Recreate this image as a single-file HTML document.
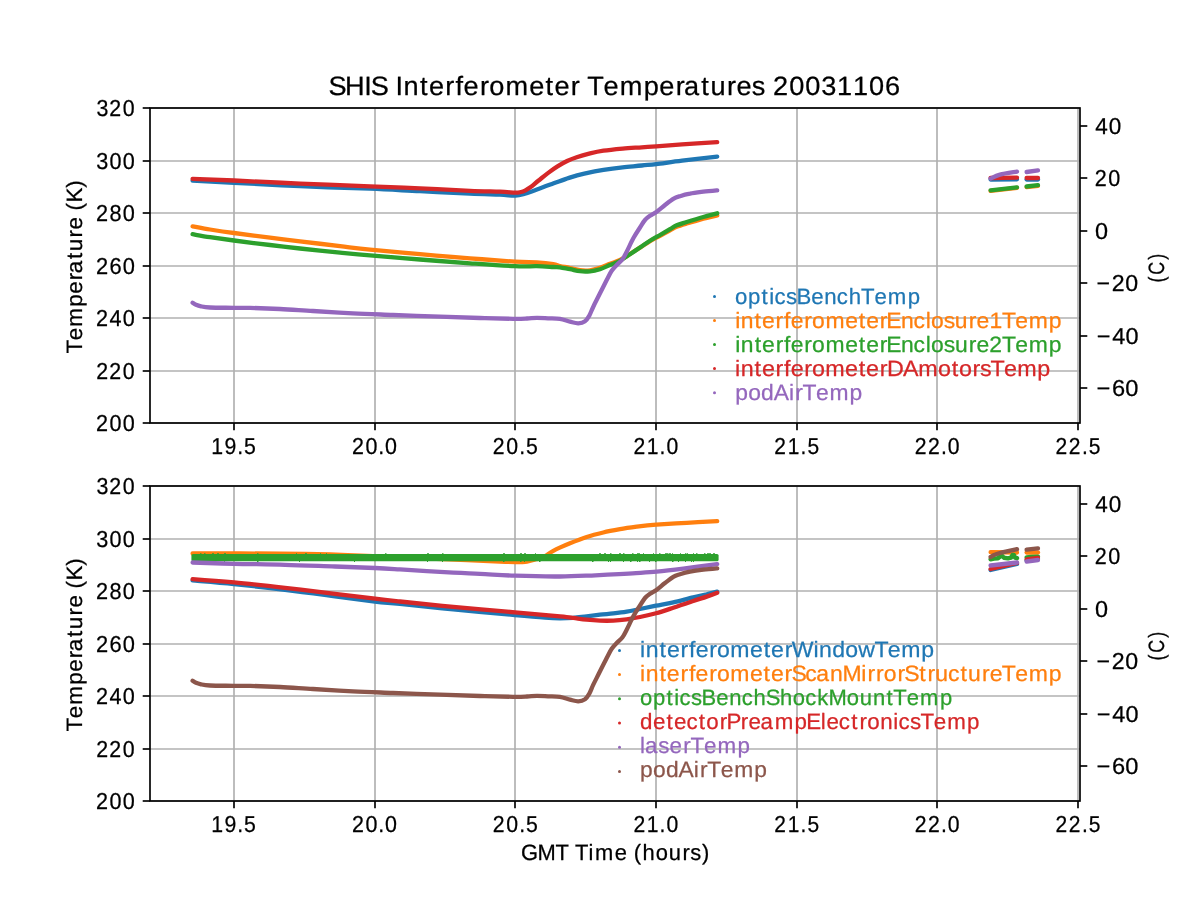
<!DOCTYPE html>
<html><head><meta charset="utf-8"><title>SHIS Interferometer Temperatures 20031106</title>
<style>html,body{margin:0;padding:0;background:#fff;}body{width:1200px;height:900px;overflow:hidden;font-family:"Liberation Sans", sans-serif;}svg{display:block;will-change:transform;text-rendering:geometricPrecision}text{font-family:"Liberation Sans", sans-serif;stroke-width:.25px;stroke-linejoin:round}</style>
</head><body>
<svg width="1200" height="900" viewBox="0 0 1200 900">
<rect width="1200" height="900" fill="#ffffff"/>
<line x1="234.00" y1="108.0" x2="234.00" y2="423.0" stroke="#b0b0b0" stroke-width="1.67"/>
<line x1="375.00" y1="108.0" x2="375.00" y2="423.0" stroke="#b0b0b0" stroke-width="1.67"/>
<line x1="515.00" y1="108.0" x2="515.00" y2="423.0" stroke="#b0b0b0" stroke-width="1.67"/>
<line x1="656.00" y1="108.0" x2="656.00" y2="423.0" stroke="#b0b0b0" stroke-width="1.67"/>
<line x1="797.00" y1="108.0" x2="797.00" y2="423.0" stroke="#b0b0b0" stroke-width="1.67"/>
<line x1="937.00" y1="108.0" x2="937.00" y2="423.0" stroke="#b0b0b0" stroke-width="1.67"/>
<line x1="1078.00" y1="108.0" x2="1078.00" y2="423.0" stroke="#b0b0b0" stroke-width="1.67"/>
<line x1="150.0" y1="423.00" x2="1080.0" y2="423.00" stroke="#b0b0b0" stroke-width="1.67"/>
<line x1="150.0" y1="371.00" x2="1080.0" y2="371.00" stroke="#b0b0b0" stroke-width="1.67"/>
<line x1="150.0" y1="318.00" x2="1080.0" y2="318.00" stroke="#b0b0b0" stroke-width="1.67"/>
<line x1="150.0" y1="266.00" x2="1080.0" y2="266.00" stroke="#b0b0b0" stroke-width="1.67"/>
<line x1="150.0" y1="213.00" x2="1080.0" y2="213.00" stroke="#b0b0b0" stroke-width="1.67"/>
<line x1="150.0" y1="161.00" x2="1080.0" y2="161.00" stroke="#b0b0b0" stroke-width="1.67"/>
<line x1="150.0" y1="108.00" x2="1080.0" y2="108.00" stroke="#b0b0b0" stroke-width="1.67"/>
<path d="M192.6,180.6 C199.5,181.0 216.1,181.9 234.0,182.8 C251.9,183.7 277.3,185.2 300.0,186.2 C322.7,187.2 350.0,187.9 370.0,188.7 C390.0,189.5 403.3,190.4 420.0,191.2 C436.7,192.0 456.7,193.1 470.0,193.7 C483.3,194.3 492.4,194.3 500.0,194.6 C507.6,194.9 511.1,195.8 515.3,195.6 C519.4,195.4 521.1,194.7 524.9,193.6 C528.7,192.5 533.5,190.7 538.3,189.0 C543.1,187.3 548.6,185.2 553.7,183.3 C558.8,181.5 563.9,179.5 569.0,177.9 C574.1,176.3 578.5,175.0 584.3,173.7 C590.0,172.4 597.1,170.9 603.5,169.9 C609.9,168.9 616.3,168.1 622.7,167.4 C629.1,166.7 636.2,166.1 641.8,165.5 C647.4,164.9 649.5,164.9 656.2,164.1 C662.9,163.3 671.9,161.9 682.1,160.7 C692.3,159.5 711.4,157.4 717.2,156.7" fill="none" stroke="#1f77b4" stroke-width="4.3" stroke-linecap="round" stroke-linejoin="round"/>
<path d="M990.6,179.5 L1017.0,179.3" fill="none" stroke="#1f77b4" stroke-width="4.3" stroke-linecap="round" stroke-linejoin="round"/>
<path d="M1026.6,179.6 L1038.0,179.6" fill="none" stroke="#1f77b4" stroke-width="4.3" stroke-linecap="round" stroke-linejoin="round"/>
<path d="M192.6,226.3 C195.5,226.8 203.1,228.4 210.0,229.5 C216.9,230.6 224.0,231.7 234.0,233.0 C244.0,234.3 259.0,236.2 270.0,237.6 C281.0,239.0 288.3,239.9 300.0,241.3 C311.7,242.7 328.3,244.8 340.0,246.2 C351.7,247.6 356.7,248.4 370.0,249.7 C383.3,251.0 403.3,252.8 420.0,254.2 C436.7,255.6 454.2,257.1 470.0,258.3 C485.8,259.6 503.9,261.0 515.0,261.7 C526.1,262.4 530.3,262.1 536.7,262.5 C543.1,262.9 549.4,263.6 553.3,264.2 C557.2,264.8 557.2,265.4 560.0,266.0 C562.8,266.6 566.7,267.3 570.0,268.0 C573.3,268.7 576.7,269.8 580.0,270.2 C583.3,270.6 586.7,270.7 590.0,270.3 C593.3,269.9 596.7,268.9 600.0,267.8 C603.3,266.7 606.7,265.1 610.0,263.8 C613.3,262.5 616.7,261.6 620.0,260.0 C623.3,258.4 626.7,256.1 630.0,254.0 C633.3,251.9 636.7,249.7 640.0,247.6 C643.3,245.5 646.7,243.2 650.0,241.2 C653.3,239.2 656.7,237.6 660.0,235.8 C663.3,234.0 667.2,231.8 670.0,230.3 C672.8,228.8 673.9,227.8 676.7,226.7 C679.5,225.6 682.3,224.8 686.7,223.5 C691.1,222.2 698.2,220.2 703.3,218.8 C708.4,217.5 714.9,216.0 717.2,215.4" fill="none" stroke="#ff7f0e" stroke-width="4.3" stroke-linecap="round" stroke-linejoin="round"/>
<path d="M990.6,190.9 L1017.0,187.9" fill="none" stroke="#ff7f0e" stroke-width="4.3" stroke-linecap="round" stroke-linejoin="round"/>
<path d="M1026.6,187.1 L1038.0,185.8" fill="none" stroke="#ff7f0e" stroke-width="4.3" stroke-linecap="round" stroke-linejoin="round"/>
<path d="M192.6,234.2 C195.5,234.7 203.1,236.1 210.0,237.2 C216.9,238.2 224.0,239.2 234.0,240.5 C244.0,241.8 259.0,243.7 270.0,245.0 C281.0,246.3 288.3,247.2 300.0,248.5 C311.7,249.8 328.3,251.5 340.0,252.6 C351.7,253.7 356.7,254.2 370.0,255.3 C383.3,256.4 403.3,258.2 420.0,259.5 C436.7,260.8 454.2,262.2 470.0,263.3 C485.8,264.4 503.9,265.7 515.0,266.2 C526.1,266.7 530.3,266.1 536.7,266.2 C543.1,266.3 549.4,266.8 553.3,267.0 C557.2,267.2 557.2,266.9 560.0,267.3 C562.8,267.7 566.7,268.6 570.0,269.2 C573.3,269.8 576.7,270.8 580.0,271.2 C583.3,271.6 586.7,271.6 590.0,271.3 C593.3,271.0 596.7,270.2 600.0,269.2 C603.3,268.1 606.7,266.4 610.0,265.0 C613.3,263.6 616.7,262.6 620.0,260.8 C623.3,259.0 626.7,256.4 630.0,254.2 C633.3,252.0 636.7,249.7 640.0,247.5 C643.3,245.3 646.7,242.9 650.0,240.8 C653.3,238.7 656.7,236.9 660.0,235.0 C663.3,233.1 667.2,230.8 670.0,229.2 C672.8,227.6 673.9,226.5 676.7,225.3 C679.5,224.1 682.3,223.4 686.7,222.0 C691.1,220.6 698.2,218.4 703.3,217.0 C708.4,215.6 714.9,213.9 717.2,213.3" fill="none" stroke="#2ca02c" stroke-width="4.3" stroke-linecap="round" stroke-linejoin="round"/>
<path d="M990.6,190.3 L1017.0,187.3" fill="none" stroke="#2ca02c" stroke-width="4.3" stroke-linecap="round" stroke-linejoin="round"/>
<path d="M1026.6,186.5 L1038.0,185.2" fill="none" stroke="#2ca02c" stroke-width="4.3" stroke-linecap="round" stroke-linejoin="round"/>
<path d="M192.6,178.9 C199.5,179.2 216.1,179.7 234.0,180.5 C251.9,181.3 277.3,182.6 300.0,183.6 C322.7,184.6 350.0,185.5 370.0,186.3 C390.0,187.1 403.3,187.6 420.0,188.3 C436.7,189.1 456.7,190.2 470.0,190.8 C483.3,191.4 492.4,191.4 500.0,191.7 C507.6,192.0 511.8,192.6 515.3,192.7 C518.8,192.8 519.4,192.3 521.0,192.0 C522.6,191.7 523.4,191.4 525.0,190.6 C526.6,189.8 528.5,188.7 530.7,187.1 C532.9,185.5 535.4,183.1 538.3,180.8 C541.2,178.5 544.7,175.5 547.9,173.1 C551.1,170.7 554.3,168.4 557.5,166.4 C560.7,164.4 563.9,162.5 567.1,161.0 C570.3,159.5 572.9,158.5 576.7,157.2 C580.5,155.9 585.6,154.5 590.1,153.4 C594.6,152.3 598.1,151.5 603.5,150.7 C608.9,149.9 616.3,149.2 622.7,148.6 C629.1,148.0 636.2,147.7 641.8,147.3 C647.4,146.9 649.5,146.8 656.2,146.3 C662.9,145.8 671.9,145.1 682.1,144.4 C692.3,143.7 711.4,142.6 717.2,142.2" fill="none" stroke="#d62728" stroke-width="4.3" stroke-linecap="round" stroke-linejoin="round"/>
<path d="M990.6,178.0 L1017.0,177.6" fill="none" stroke="#d62728" stroke-width="4.3" stroke-linecap="round" stroke-linejoin="round"/>
<path d="M1026.6,178.0 L1038.0,178.0" fill="none" stroke="#d62728" stroke-width="4.3" stroke-linecap="round" stroke-linejoin="round"/>
<path d="M192.6,302.7 C193.2,303.1 194.6,304.2 196.0,304.8 C197.4,305.4 198.7,305.9 201.0,306.3 C203.3,306.8 204.5,307.2 210.0,307.5 C215.5,307.8 227.3,307.7 234.0,307.8 C240.7,307.9 242.3,307.7 250.0,307.9 C257.7,308.1 269.5,308.5 280.0,309.0 C290.5,309.5 300.8,310.3 313.0,311.0 C325.2,311.7 339.7,312.6 353.0,313.3 C366.3,314.0 378.5,314.4 393.0,315.0 C407.5,315.6 425.5,316.2 440.0,316.7 C454.5,317.2 467.8,317.6 480.0,318.0 C492.2,318.4 505.2,318.7 513.0,318.8 C520.8,318.9 523.0,318.7 527.0,318.5 C531.0,318.3 533.5,317.8 537.0,317.8 C540.5,317.8 544.2,318.1 548.0,318.3 C551.8,318.5 556.3,318.3 560.0,318.9 C563.7,319.5 567.0,321.0 570.0,321.7 C573.0,322.4 575.8,323.4 578.3,323.3 C580.8,323.2 583.2,322.6 585.0,321.3 C586.8,320.1 587.8,318.2 589.2,315.8 C590.6,313.4 591.5,310.4 593.3,306.7 C595.1,302.9 597.8,297.8 600.0,293.3 C602.2,288.9 604.8,283.8 606.7,280.0 C608.7,276.2 610.0,273.3 611.7,270.8 C613.4,268.3 614.9,266.9 616.7,265.0 C618.5,263.1 620.8,261.4 622.5,259.2 C624.2,257.0 624.9,255.2 626.7,251.7 C628.5,248.2 631.1,242.3 633.3,238.3 C635.5,234.3 638.0,230.6 640.0,227.5 C642.0,224.4 643.3,221.9 645.0,220.0 C646.7,218.1 648.0,217.2 650.0,215.8 C652.0,214.4 654.2,213.5 656.7,211.7 C659.2,209.9 662.2,207.2 665.0,205.0 C667.8,202.8 670.8,200.3 673.3,198.8 C675.8,197.3 677.2,197.0 680.0,196.2 C682.8,195.3 686.1,194.4 690.0,193.7 C693.9,192.9 698.8,192.3 703.3,191.7 C707.8,191.1 714.9,190.5 717.2,190.3" fill="none" stroke="#9467bd" stroke-width="4.3" stroke-linecap="round" stroke-linejoin="round"/>
<path d="M990.6,178.5 C992.2,177.8 995.6,175.8 1000.0,174.6 C1004.4,173.4 1014.2,172.1 1017.0,171.6" fill="none" stroke="#9467bd" stroke-width="4.3" stroke-linecap="round" stroke-linejoin="round"/>
<path d="M1026.6,172.0 L1038.0,170.3" fill="none" stroke="#9467bd" stroke-width="4.3" stroke-linecap="round" stroke-linejoin="round"/>
<circle cx="714.5" cy="296.5" r="1.5" fill="#1f77b4"/>
<text transform="translate(0 303.6) scale(0.9999 1)" x="735.04 748.10 761.66 769.30 774.54 786.05 796.53 811.35 824.31 836.92 848.84 861.14 874.51 887.94 907.78" y="0" font-size="22.2" fill="#1f77b4" stroke="#1f77b4">opticsBenchTemp</text>
<circle cx="714.5" cy="320.5" r="1.5" fill="#ff7f0e"/>
<text transform="translate(0 327.7) scale(1.0325 1)" x="712.00 717.53 730.87 738.04 751.20 759.39 765.86 779.01 786.50 799.48 818.57 831.73 838.90 852.06 858.42 872.56 884.83 896.51 901.79 913.98 924.82 938.25 945.81 958.27 970.38 983.39 996.37 1015.73" y="0" font-size="22.2" fill="#ff7f0e" stroke="#ff7f0e">interferometerEnclosure1Temp</text>
<circle cx="714.5" cy="344.6" r="1.5" fill="#2ca02c"/>
<text transform="translate(0 351.7) scale(1.0327 1)" x="711.89 717.41 730.75 737.92 751.08 759.27 765.74 778.89 786.37 799.35 818.45 831.60 838.77 851.92 858.29 872.42 884.69 896.37 901.65 913.84 924.68 938.10 945.66 957.97 970.22 983.23 996.21 1015.57" y="0" font-size="22.2" fill="#2ca02c" stroke="#2ca02c">interferometerEnclosure2Temp</text>
<circle cx="714.5" cy="368.6" r="1.5" fill="#d62728"/>
<text transform="translate(0 375.5) scale(1.0508 1)" x="699.56 704.92 718.08 725.08 738.05 746.12 752.42 765.39 772.71 785.41 804.24 817.22 824.22 837.18 844.23 859.25 873.91 892.67 905.65 912.58 925.54 932.73 942.58 955.39 968.09 987.17" y="0" font-size="22.2" fill="#d62728" stroke="#d62728">interferometerDAmotorsTemp</text>
<circle cx="714.5" cy="392.7" r="1.5" fill="#9467bd"/>
<text transform="translate(0 399.5) scale(1.0303 1)" x="713.57 726.15 738.72 751.03 765.77 771.92 778.87 792.00 805.12 824.63" y="0" font-size="22.2" fill="#9467bd" stroke="#9467bd">podAirTemp</text>
<line x1="234.00" y1="423.0" x2="234.00" y2="430.3" stroke="#000" stroke-width="1.67"/>
<text transform="translate(0 454.0) scale(0.9247 1)" x="228.47 242.67 256.55 263.88" y="0" font-size="23.0" fill="#000" stroke="#000">19.5</text>
<line x1="375.00" y1="423.0" x2="375.00" y2="430.3" stroke="#000" stroke-width="1.67"/>
<text transform="translate(0 454.0) scale(0.9324 1)" x="377.65 391.95 405.65 412.96" y="0" font-size="23.0" fill="#000" stroke="#000">20.0</text>
<line x1="515.00" y1="423.0" x2="515.00" y2="430.3" stroke="#000" stroke-width="1.67"/>
<text transform="translate(0 454.0) scale(0.9249 1)" x="532.86 547.42 561.31 568.73" y="0" font-size="23.0" fill="#000" stroke="#000">20.5</text>
<line x1="656.00" y1="423.0" x2="656.00" y2="430.3" stroke="#000" stroke-width="1.67"/>
<text transform="translate(0 454.0) scale(0.9196 1)" x="688.91 703.29 717.25 724.71" y="0" font-size="23.0" fill="#000" stroke="#000">21.0</text>
<line x1="797.00" y1="423.0" x2="797.00" y2="430.3" stroke="#000" stroke-width="1.67"/>
<text transform="translate(0 454.0) scale(0.9115 1)" x="849.48 864.15 878.31 885.88" y="0" font-size="23.0" fill="#000" stroke="#000">21.5</text>
<line x1="937.00" y1="423.0" x2="937.00" y2="430.3" stroke="#000" stroke-width="1.67"/>
<text transform="translate(0 454.0) scale(0.9218 1)" x="992.44 1006.61 1020.73 1028.16" y="0" font-size="23.0" fill="#000" stroke="#000">22.0</text>
<line x1="1078.00" y1="423.0" x2="1078.00" y2="430.3" stroke="#000" stroke-width="1.67"/>
<text transform="translate(0 454.0) scale(0.9140 1)" x="1154.93 1169.36 1183.68 1191.23" y="0" font-size="23.0" fill="#000" stroke="#000">22.5</text>
<line x1="142.7" y1="423.00" x2="150.0" y2="423.00" stroke="#000" stroke-width="1.67"/>
<text transform="translate(0 430.9) scale(0.9397 1)" x="102.25 116.59 130.64" y="0" font-size="23.0" fill="#000" stroke="#000">200</text>
<line x1="142.7" y1="371.00" x2="150.0" y2="371.00" stroke="#000" stroke-width="1.67"/>
<text transform="translate(0 378.9) scale(0.9283 1)" x="103.59 117.81 132.32" y="0" font-size="23.0" fill="#000" stroke="#000">220</text>
<line x1="142.7" y1="318.00" x2="150.0" y2="318.00" stroke="#000" stroke-width="1.67"/>
<text transform="translate(0 325.9) scale(0.9400 1)" x="102.23 116.56 130.60" y="0" font-size="23.0" fill="#000" stroke="#000">240</text>
<line x1="142.7" y1="266.00" x2="150.0" y2="266.00" stroke="#000" stroke-width="1.67"/>
<text transform="translate(0 273.9) scale(0.9506 1)" x="101.01 115.18 129.07" y="0" font-size="23.0" fill="#000" stroke="#000">260</text>
<line x1="142.7" y1="213.00" x2="150.0" y2="213.00" stroke="#000" stroke-width="1.67"/>
<text transform="translate(0 220.9) scale(0.9431 1)" x="101.86 116.15 130.14" y="0" font-size="23.0" fill="#000" stroke="#000">280</text>
<line x1="142.7" y1="161.00" x2="150.0" y2="161.00" stroke="#000" stroke-width="1.67"/>
<text transform="translate(0 168.9) scale(0.9399 1)" x="102.50 116.54 130.61" y="0" font-size="23.0" fill="#000" stroke="#000">300</text>
<line x1="142.7" y1="108.00" x2="150.0" y2="108.00" stroke="#000" stroke-width="1.67"/>
<text transform="translate(0 115.9) scale(0.9286 1)" x="103.83 117.74 132.28" y="0" font-size="23.0" fill="#000" stroke="#000">320</text>
<line x1="1080.0" y1="388.00" x2="1087.3" y2="388.00" stroke="#000" stroke-width="1.67"/>
<text transform="translate(0 395.9) scale(1.0284 1)" x="1066.31 1081.42 1094.20" y="0" font-size="23.0" fill="#000" stroke="#000">−60</text>
<line x1="1080.0" y1="336.00" x2="1087.3" y2="336.00" stroke="#000" stroke-width="1.67"/>
<text transform="translate(0 343.9) scale(1.0207 1)" x="1074.41 1089.71 1102.64" y="0" font-size="23.0" fill="#000" stroke="#000">−40</text>
<line x1="1080.0" y1="283.00" x2="1087.3" y2="283.00" stroke="#000" stroke-width="1.67"/>
<text transform="translate(0 290.9) scale(1.0070 1)" x="1088.89 1104.05 1117.36" y="0" font-size="23.0" fill="#000" stroke="#000">−20</text>
<line x1="1080.0" y1="231.00" x2="1087.3" y2="231.00" stroke="#000" stroke-width="1.67"/>
<text transform="translate(0 238.9) scale(1.0187 1)" x="1075.00" y="0" font-size="23.0" fill="#000" stroke="#000">0</text>
<line x1="1080.0" y1="178.00" x2="1087.3" y2="178.00" stroke="#000" stroke-width="1.67"/>
<text transform="translate(0 185.9) scale(0.9380 1)" x="1167.19 1181.61" y="0" font-size="23.0" fill="#000" stroke="#000">20</text>
<line x1="1080.0" y1="126.00" x2="1087.3" y2="126.00" stroke="#000" stroke-width="1.67"/>
<text transform="translate(0 133.9) scale(0.9783 1)" x="1119.57 1133.45" y="0" font-size="23.0" fill="#000" stroke="#000">40</text>
<rect x="150.0" y="108.0" width="930.0" height="315.0" fill="none" stroke="#000" stroke-width="1.67"/>
<text transform="translate(82.0 353.2) rotate(-90) scale(1.0082 1)" x="-0.40 12.93 26.31 46.10 58.95 72.39 79.33 93.55 101.08 114.80 122.60 135.09 141.45 149.57 164.21" y="0" font-size="22.2" fill="#000" stroke="#000">Temperature (K)</text>
<text transform="translate(1164.0 281.2) rotate(-90) scale(0.8043 1)" x="-1.53 8.15 26.71" y="0" font-size="22.2" fill="#000" stroke="#000">(C)</text>
<line x1="234.00" y1="486.0" x2="234.00" y2="801.0" stroke="#b0b0b0" stroke-width="1.67"/>
<line x1="375.00" y1="486.0" x2="375.00" y2="801.0" stroke="#b0b0b0" stroke-width="1.67"/>
<line x1="515.00" y1="486.0" x2="515.00" y2="801.0" stroke="#b0b0b0" stroke-width="1.67"/>
<line x1="656.00" y1="486.0" x2="656.00" y2="801.0" stroke="#b0b0b0" stroke-width="1.67"/>
<line x1="797.00" y1="486.0" x2="797.00" y2="801.0" stroke="#b0b0b0" stroke-width="1.67"/>
<line x1="937.00" y1="486.0" x2="937.00" y2="801.0" stroke="#b0b0b0" stroke-width="1.67"/>
<line x1="1078.00" y1="486.0" x2="1078.00" y2="801.0" stroke="#b0b0b0" stroke-width="1.67"/>
<line x1="150.0" y1="801.00" x2="1080.0" y2="801.00" stroke="#b0b0b0" stroke-width="1.67"/>
<line x1="150.0" y1="749.00" x2="1080.0" y2="749.00" stroke="#b0b0b0" stroke-width="1.67"/>
<line x1="150.0" y1="696.00" x2="1080.0" y2="696.00" stroke="#b0b0b0" stroke-width="1.67"/>
<line x1="150.0" y1="644.00" x2="1080.0" y2="644.00" stroke="#b0b0b0" stroke-width="1.67"/>
<line x1="150.0" y1="591.00" x2="1080.0" y2="591.00" stroke="#b0b0b0" stroke-width="1.67"/>
<line x1="150.0" y1="539.00" x2="1080.0" y2="539.00" stroke="#b0b0b0" stroke-width="1.67"/>
<line x1="150.0" y1="486.00" x2="1080.0" y2="486.00" stroke="#b0b0b0" stroke-width="1.67"/>
<path d="M192.6,580.4 C199.5,581.0 218.6,582.4 234.0,584.0 C249.4,585.6 268.2,587.8 285.0,589.8 C301.8,591.8 320.0,594.3 335.0,596.3 C350.0,598.2 364.2,600.2 375.0,601.5 C385.8,602.8 386.9,602.5 400.0,603.8 C413.1,605.1 434.1,607.5 453.3,609.4 C472.5,611.3 499.7,613.7 515.0,615.1 C530.3,616.5 537.5,617.1 545.0,617.6 C552.5,618.1 555.3,618.2 560.0,618.3 C564.7,618.3 568.8,618.2 573.3,617.9 C577.8,617.6 582.2,616.8 586.7,616.3 C591.2,615.8 595.6,615.2 600.0,614.7 C604.4,614.2 608.8,613.9 613.3,613.4 C617.8,612.9 622.2,612.4 626.7,611.7 C631.2,611.0 635.1,610.0 640.0,609.0 C644.9,608.0 650.5,606.8 656.0,605.7 C661.5,604.6 667.1,603.7 673.3,602.3 C679.5,600.9 687.7,598.7 693.3,597.4 C698.9,596.1 702.7,595.2 706.7,594.3 C710.7,593.3 715.5,592.1 717.2,591.7" fill="none" stroke="#1f77b4" stroke-width="4.3" stroke-linecap="round" stroke-linejoin="round"/>
<path d="M990.6,570.0 L1017.0,564.0" fill="none" stroke="#1f77b4" stroke-width="4.3" stroke-linecap="round" stroke-linejoin="round"/>
<path d="M1026.6,560.5 L1038.0,559.0" fill="none" stroke="#1f77b4" stroke-width="4.3" stroke-linecap="round" stroke-linejoin="round"/>
<path d="M192.6,553.5 C207.2,553.5 257.1,553.4 280.0,553.6 C302.9,553.8 315.5,554.1 330.0,554.5 C344.5,554.9 352.0,555.2 367.0,555.8 C382.0,556.4 403.3,557.5 420.0,558.2 C436.7,558.9 453.7,559.6 467.0,560.2 C480.3,560.8 491.9,561.3 500.0,561.6 C508.1,561.9 510.8,562.0 515.3,562.0 C519.8,562.0 523.5,562.0 527.0,561.5 C530.5,561.0 533.0,560.2 536.0,559.3 C539.0,558.4 542.1,557.6 545.0,556.2 C547.9,554.8 549.1,552.9 553.3,550.8 C557.5,548.6 564.4,545.6 570.0,543.3 C575.6,541.0 581.2,538.8 586.7,537.0 C592.2,535.2 597.8,533.8 603.3,532.5 C608.8,531.2 614.4,530.2 620.0,529.2 C625.6,528.2 630.7,527.5 636.7,526.7 C642.8,526.0 648.0,525.4 656.3,524.7 C664.6,524.1 676.6,523.4 686.7,522.8 C696.9,522.2 712.1,521.5 717.2,521.2" fill="none" stroke="#ff7f0e" stroke-width="4.3" stroke-linecap="round" stroke-linejoin="round"/>
<path d="M990.6,552.2 L1017.0,552.5" fill="none" stroke="#ff7f0e" stroke-width="4.3" stroke-linecap="round" stroke-linejoin="round"/>
<path d="M1026.6,552.5 L1038.0,552.5" fill="none" stroke="#ff7f0e" stroke-width="4.3" stroke-linecap="round" stroke-linejoin="round"/>
<rect x="191.4" y="553.9" width="527.2" height="7.4" rx="1.6" fill="#2ca02c"/>
<path d="M200.0,554.2v-1.0h1.5v1.0zM204.0,554.2v-1.0h1.5v1.0zM204.0,561.0v0.9h1.0v-0.9zM212.0,554.2v-1.0h2.0v1.0zM217.0,554.2v-1.0h2.0v1.0zM224.0,554.2v-1.0h2.0v1.0zM224.0,561.0v0.9h1.0v-0.9zM257.0,554.2v-1.0h1.5v1.0zM257.0,561.0v0.9h1.5v-0.9zM296.0,554.2v-1.0h1.0v1.0zM299.0,561.0v0.9h1.0v-0.9zM305.0,554.2v-1.0h2.0v1.0zM320.0,554.2v-1.0h1.0v1.0zM326.0,554.2v-1.0h1.0v1.0zM354.0,561.0v0.9h1.0v-0.9zM385.0,554.2v-1.0h1.5v1.0zM427.0,554.2v-1.0h2.0v1.0zM427.0,561.0v0.9h1.0v-0.9zM442.0,554.2v-1.0h1.5v1.0zM442.0,561.0v0.9h1.0v-0.9zM503.0,554.2v-1.0h2.0v1.0zM503.0,561.0v0.9h1.5v-0.9zM520.0,554.2v-1.0h2.0v1.0zM520.0,561.0v0.9h1.5v-0.9zM524.0,554.2v-1.0h2.0v1.0zM524.0,561.0v0.9h1.0v-0.9zM535.0,554.2v-1.0h1.0v1.0zM539.0,561.0v0.9h1.5v-0.9zM592.0,561.0v0.9h1.5v-0.9zM599.0,554.2v-1.0h2.0v1.0zM604.0,554.2v-1.0h2.0v1.0zM608.0,561.0v0.9h1.0v-0.9zM610.0,554.2v-1.0h1.5v1.0zM610.0,561.0v0.9h1.0v-0.9zM619.0,554.2v-1.0h2.0v1.0zM623.0,554.2v-1.0h1.5v1.0zM623.0,561.0v0.9h1.0v-0.9zM630.0,561.0v0.9h1.5v-0.9zM632.0,554.2v-1.0h1.5v1.0zM637.0,554.2v-1.0h2.0v1.0zM637.0,561.0v0.9h1.0v-0.9zM639.0,554.2v-1.0h1.0v1.0zM639.0,561.0v0.9h1.5v-0.9zM643.0,554.2v-1.0h1.0v1.0zM649.0,561.0v0.9h1.0v-0.9zM653.0,554.2v-1.0h1.0v1.0zM655.0,561.0v0.9h1.5v-0.9zM659.0,554.2v-1.0h1.5v1.0zM665.0,554.2v-1.0h2.0v1.0zM667.0,554.2v-1.0h1.5v1.0zM669.0,554.2v-1.0h2.0v1.0zM672.0,554.2v-1.0h1.0v1.0zM672.0,561.0v0.9h1.5v-0.9zM678.0,561.0v0.9h1.0v-0.9zM680.0,554.2v-1.0h1.0v1.0zM685.0,554.2v-1.0h1.5v1.0zM685.0,561.0v0.9h1.0v-0.9zM687.0,554.2v-1.0h1.0v1.0zM691.0,561.0v0.9h1.0v-0.9zM693.0,554.2v-1.0h1.0v1.0zM693.0,561.0v0.9h1.0v-0.9zM696.0,554.2v-1.0h1.5v1.0zM704.0,554.2v-1.0h1.5v1.0zM707.0,554.2v-1.0h2.0v1.0zM709.0,554.2v-1.0h2.0v1.0zM713.0,554.2v-1.0h2.0v1.0z" fill="#2ca02c"/>
<path d="M990.6,559.3 L994,558.6 L998,558.2 L1000.5,556.2 L1002,555.8 L1004,557.8 L1008,558.4 L1011,557.6 L1012.5,555.0 L1013.8,555.0 L1015,557.6 L1017,558.2" fill="none" stroke="#2ca02c" stroke-width="4.4" stroke-linecap="round" stroke-linejoin="round"/>
<path d="M1026.6,557.4 L1031,557.0 L1038,556.6" fill="none" stroke="#2ca02c" stroke-width="4.4" stroke-linecap="round" stroke-linejoin="round"/>
<path d="M192.6,579.1 C199.5,579.6 218.6,581.0 234.0,582.4 C249.4,583.8 268.2,585.9 285.0,587.8 C301.8,589.7 320.0,592.1 335.0,593.9 C350.0,595.7 364.2,597.4 375.0,598.7 C385.8,600.0 386.9,600.1 400.0,601.5 C413.1,602.9 434.1,605.1 453.3,606.9 C472.5,608.7 497.2,610.8 515.0,612.4 C532.8,614.0 550.3,615.5 560.0,616.4 C569.7,617.3 568.8,617.3 573.3,617.9 C577.8,618.5 582.2,619.2 586.7,619.7 C591.2,620.2 595.6,620.5 600.0,620.6 C604.4,620.8 608.8,620.8 613.3,620.6 C617.8,620.4 622.2,619.9 626.7,619.3 C631.2,618.7 635.1,618.0 640.0,617.0 C644.9,616.0 650.5,614.8 656.0,613.3 C661.5,611.8 667.1,609.8 673.3,607.7 C679.5,605.7 687.7,602.9 693.3,601.0 C698.9,599.1 702.7,598.0 706.7,596.6 C710.7,595.2 715.5,593.4 717.2,592.7" fill="none" stroke="#d62728" stroke-width="4.3" stroke-linecap="round" stroke-linejoin="round"/>
<path d="M990.6,569.0 L1017.0,563.0" fill="none" stroke="#d62728" stroke-width="4.3" stroke-linecap="round" stroke-linejoin="round"/>
<path d="M1026.6,559.5 L1038.0,558.0" fill="none" stroke="#d62728" stroke-width="4.3" stroke-linecap="round" stroke-linejoin="round"/>
<path d="M192.6,562.5 C199.5,562.7 218.6,563.4 234.0,563.8 C249.4,564.2 268.2,564.3 285.0,564.8 C301.8,565.2 320.0,566.0 335.0,566.5 C350.0,567.0 364.2,567.5 375.0,568.0 C385.8,568.5 386.9,568.6 400.0,569.4 C413.1,570.2 440.0,572.0 453.3,572.7 C466.6,573.4 469.7,573.3 480.0,573.8 C490.3,574.3 501.7,575.2 515.0,575.7 C528.3,576.2 546.6,576.6 560.0,576.5 C573.4,576.4 586.4,575.6 595.3,575.3 C604.2,574.9 607.1,574.7 613.3,574.4 C619.5,574.1 625.5,573.8 632.7,573.3 C639.9,572.8 648.3,572.5 656.7,571.7 C665.1,570.9 673.2,569.9 683.3,568.6 C693.4,567.3 711.6,564.9 717.2,564.1" fill="none" stroke="#9467bd" stroke-width="4.3" stroke-linecap="round" stroke-linejoin="round"/>
<path d="M990.6,565.5 L1017.0,562.5" fill="none" stroke="#9467bd" stroke-width="4.3" stroke-linecap="round" stroke-linejoin="round"/>
<path d="M1026.6,561.5 L1038.0,560.0" fill="none" stroke="#9467bd" stroke-width="4.3" stroke-linecap="round" stroke-linejoin="round"/>
<path d="M192.6,680.7 C193.2,681.1 194.6,682.2 196.0,682.8 C197.4,683.4 198.7,683.8 201.0,684.3 C203.3,684.8 204.5,685.2 210.0,685.5 C215.5,685.8 227.3,685.7 234.0,685.8 C240.7,685.9 242.3,685.7 250.0,685.9 C257.7,686.1 269.5,686.5 280.0,687.0 C290.5,687.5 300.8,688.3 313.0,689.0 C325.2,689.7 339.7,690.6 353.0,691.3 C366.3,692.0 378.5,692.4 393.0,693.0 C407.5,693.6 425.5,694.2 440.0,694.7 C454.5,695.2 467.8,695.6 480.0,696.0 C492.2,696.4 505.2,696.7 513.0,696.8 C520.8,696.9 523.0,696.7 527.0,696.5 C531.0,696.3 533.5,695.8 537.0,695.8 C540.5,695.8 544.2,696.1 548.0,696.3 C551.8,696.5 556.3,696.3 560.0,696.9 C563.7,697.5 567.0,699.0 570.0,699.7 C573.0,700.4 575.8,701.4 578.3,701.3 C580.8,701.2 583.2,700.5 585.0,699.3 C586.8,698.0 587.8,696.2 589.2,693.8 C590.6,691.4 591.5,688.5 593.3,684.7 C595.1,681.0 597.8,675.8 600.0,671.3 C602.2,666.8 604.8,661.8 606.7,658.0 C608.7,654.2 610.0,651.3 611.7,648.8 C613.4,646.3 614.9,644.9 616.7,643.0 C618.5,641.1 620.8,639.4 622.5,637.2 C624.2,635.0 624.9,633.2 626.7,629.7 C628.5,626.2 631.1,620.3 633.3,616.3 C635.5,612.3 638.0,608.5 640.0,605.5 C642.0,602.5 643.3,600.0 645.0,598.0 C646.7,596.0 648.0,595.2 650.0,593.8 C652.0,592.4 654.2,591.5 656.7,589.7 C659.2,587.9 662.2,585.1 665.0,583.0 C667.8,580.9 670.8,578.3 673.3,576.8 C675.8,575.3 677.2,575.1 680.0,574.2 C682.8,573.4 686.1,572.5 690.0,571.7 C693.9,571.0 698.8,570.3 703.3,569.7 C707.8,569.1 714.9,568.5 717.2,568.3" fill="none" stroke="#8c564b" stroke-width="4.3" stroke-linecap="round" stroke-linejoin="round"/>
<path d="M990.6,557.0 C991.2,556.7 992.4,555.7 994.0,555.0 C995.6,554.3 996.2,554.0 1000.0,553.0 C1003.8,552.0 1014.2,549.8 1017.0,549.2" fill="none" stroke="#8c564b" stroke-width="4.3" stroke-linecap="round" stroke-linejoin="round"/>
<path d="M1026.6,549.7 L1038.0,548.3" fill="none" stroke="#8c564b" stroke-width="4.3" stroke-linecap="round" stroke-linejoin="round"/>
<circle cx="619.5" cy="650.4" r="1.5" fill="#1f77b4"/>
<text transform="translate(0 656.7) scale(1.0387 1)" x="616.21 621.68 634.96 642.08 655.17 663.33 669.73 682.82 690.26 703.14 722.15 735.25 742.36 755.45 762.35 783.09 788.56 801.13 813.75 826.24 841.82 854.77 867.65 886.92" y="0" font-size="22.2" fill="#1f77b4" stroke="#1f77b4">interferometerWindowTemp</text>
<circle cx="619.5" cy="674.6" r="1.5" fill="#ff7f0e"/>
<text transform="translate(0 681.0) scale(1.0366 1)" x="617.43 622.91 636.21 643.34 656.45 664.62 671.04 684.15 691.60 704.51 723.54 736.65 743.78 756.89 763.44 776.84 787.37 800.72 812.65 830.89 836.93 845.20 852.64 865.75 872.30 886.78 894.65 902.27 914.58 926.70 933.94 947.32 954.83 966.51 979.47 992.38 1011.68" y="0" font-size="22.2" fill="#ff7f0e" stroke="#ff7f0e">interferometerScanMirrorStructureTemp</text>
<circle cx="619.5" cy="698.7" r="1.5" fill="#2ca02c"/>
<text transform="translate(0 705.1) scale(0.9921 1)" x="645.05 658.20 671.83 679.52 684.82 696.41 706.98 721.89 734.94 747.64 759.64 771.77 786.15 799.16 811.67 823.87 835.09 853.57 866.54 879.87 893.58 900.42 913.88 927.43 947.38" y="0" font-size="22.2" fill="#2ca02c" stroke="#2ca02c">opticsBenchShockMountTemp</text>
<circle cx="619.5" cy="723.0" r="1.5" fill="#d62728"/>
<text transform="translate(0 729.3) scale(1.0067 1)" x="635.67 648.72 662.10 669.50 681.85 694.22 701.55 714.95 721.65 735.87 743.63 755.47 769.60 789.34 800.97 815.37 820.91 833.26 845.63 853.74 861.44 874.32 887.40 892.59 904.03 914.33 927.62 940.95 960.68" y="0" font-size="22.2" fill="#d62728" stroke="#d62728">detectorPreampElectronicsTemp</text>
<circle cx="619.5" cy="747.2" r="1.5" fill="#9467bd"/>
<text transform="translate(0 753.3) scale(1.0090 1)" x="634.39 639.16 652.51 663.59 677.09 684.25 697.64 711.11 730.98" y="0" font-size="22.2" fill="#9467bd" stroke="#9467bd">laserTemp</text>
<circle cx="619.5" cy="771.5" r="1.5" fill="#8c564b"/>
<text transform="translate(0 777.4) scale(1.0279 1)" x="622.75 635.32 647.90 660.20 674.95 681.09 688.05 701.17 714.29 733.81" y="0" font-size="22.2" fill="#8c564b" stroke="#8c564b">podAirTemp</text>
<line x1="234.00" y1="801.0" x2="234.00" y2="808.3" stroke="#000" stroke-width="1.67"/>
<text transform="translate(0 832.0) scale(0.9247 1)" x="228.47 242.67 256.55 263.88" y="0" font-size="23.0" fill="#000" stroke="#000">19.5</text>
<line x1="375.00" y1="801.0" x2="375.00" y2="808.3" stroke="#000" stroke-width="1.67"/>
<text transform="translate(0 832.0) scale(0.9324 1)" x="377.65 391.95 405.65 412.96" y="0" font-size="23.0" fill="#000" stroke="#000">20.0</text>
<line x1="515.00" y1="801.0" x2="515.00" y2="808.3" stroke="#000" stroke-width="1.67"/>
<text transform="translate(0 832.0) scale(0.9249 1)" x="532.86 547.42 561.31 568.73" y="0" font-size="23.0" fill="#000" stroke="#000">20.5</text>
<line x1="656.00" y1="801.0" x2="656.00" y2="808.3" stroke="#000" stroke-width="1.67"/>
<text transform="translate(0 832.0) scale(0.9196 1)" x="688.91 703.29 717.25 724.71" y="0" font-size="23.0" fill="#000" stroke="#000">21.0</text>
<line x1="797.00" y1="801.0" x2="797.00" y2="808.3" stroke="#000" stroke-width="1.67"/>
<text transform="translate(0 832.0) scale(0.9115 1)" x="849.48 864.15 878.31 885.88" y="0" font-size="23.0" fill="#000" stroke="#000">21.5</text>
<line x1="937.00" y1="801.0" x2="937.00" y2="808.3" stroke="#000" stroke-width="1.67"/>
<text transform="translate(0 832.0) scale(0.9218 1)" x="992.44 1006.61 1020.73 1028.16" y="0" font-size="23.0" fill="#000" stroke="#000">22.0</text>
<line x1="1078.00" y1="801.0" x2="1078.00" y2="808.3" stroke="#000" stroke-width="1.67"/>
<text transform="translate(0 832.0) scale(0.9140 1)" x="1154.93 1169.36 1183.68 1191.23" y="0" font-size="23.0" fill="#000" stroke="#000">22.5</text>
<line x1="142.7" y1="801.00" x2="150.0" y2="801.00" stroke="#000" stroke-width="1.67"/>
<text transform="translate(0 808.9) scale(0.9397 1)" x="102.25 116.59 130.64" y="0" font-size="23.0" fill="#000" stroke="#000">200</text>
<line x1="142.7" y1="749.00" x2="150.0" y2="749.00" stroke="#000" stroke-width="1.67"/>
<text transform="translate(0 756.9) scale(0.9283 1)" x="103.59 117.81 132.32" y="0" font-size="23.0" fill="#000" stroke="#000">220</text>
<line x1="142.7" y1="696.00" x2="150.0" y2="696.00" stroke="#000" stroke-width="1.67"/>
<text transform="translate(0 703.9) scale(0.9400 1)" x="102.23 116.56 130.60" y="0" font-size="23.0" fill="#000" stroke="#000">240</text>
<line x1="142.7" y1="644.00" x2="150.0" y2="644.00" stroke="#000" stroke-width="1.67"/>
<text transform="translate(0 651.9) scale(0.9506 1)" x="101.01 115.18 129.07" y="0" font-size="23.0" fill="#000" stroke="#000">260</text>
<line x1="142.7" y1="591.00" x2="150.0" y2="591.00" stroke="#000" stroke-width="1.67"/>
<text transform="translate(0 598.9) scale(0.9431 1)" x="101.86 116.15 130.14" y="0" font-size="23.0" fill="#000" stroke="#000">280</text>
<line x1="142.7" y1="539.00" x2="150.0" y2="539.00" stroke="#000" stroke-width="1.67"/>
<text transform="translate(0 546.9) scale(0.9399 1)" x="102.50 116.54 130.61" y="0" font-size="23.0" fill="#000" stroke="#000">300</text>
<line x1="142.7" y1="486.00" x2="150.0" y2="486.00" stroke="#000" stroke-width="1.67"/>
<text transform="translate(0 493.9) scale(0.9286 1)" x="103.83 117.74 132.28" y="0" font-size="23.0" fill="#000" stroke="#000">320</text>
<line x1="1080.0" y1="766.00" x2="1087.3" y2="766.00" stroke="#000" stroke-width="1.67"/>
<text transform="translate(0 773.9) scale(1.0284 1)" x="1066.31 1081.42 1094.20" y="0" font-size="23.0" fill="#000" stroke="#000">−60</text>
<line x1="1080.0" y1="714.00" x2="1087.3" y2="714.00" stroke="#000" stroke-width="1.67"/>
<text transform="translate(0 721.9) scale(1.0207 1)" x="1074.41 1089.71 1102.64" y="0" font-size="23.0" fill="#000" stroke="#000">−40</text>
<line x1="1080.0" y1="661.00" x2="1087.3" y2="661.00" stroke="#000" stroke-width="1.67"/>
<text transform="translate(0 668.9) scale(1.0070 1)" x="1088.89 1104.05 1117.36" y="0" font-size="23.0" fill="#000" stroke="#000">−20</text>
<line x1="1080.0" y1="609.00" x2="1087.3" y2="609.00" stroke="#000" stroke-width="1.67"/>
<text transform="translate(0 616.9) scale(1.0187 1)" x="1075.00" y="0" font-size="23.0" fill="#000" stroke="#000">0</text>
<line x1="1080.0" y1="556.00" x2="1087.3" y2="556.00" stroke="#000" stroke-width="1.67"/>
<text transform="translate(0 563.9) scale(0.9380 1)" x="1167.19 1181.61" y="0" font-size="23.0" fill="#000" stroke="#000">20</text>
<line x1="1080.0" y1="504.00" x2="1087.3" y2="504.00" stroke="#000" stroke-width="1.67"/>
<text transform="translate(0 511.9) scale(0.9783 1)" x="1119.57 1133.45" y="0" font-size="23.0" fill="#000" stroke="#000">40</text>
<rect x="150.0" y="486.0" width="930.0" height="315.0" fill="none" stroke="#000" stroke-width="1.67"/>
<text transform="translate(82.0 731.2) rotate(-90) scale(1.0082 1)" x="-0.40 12.93 26.31 46.10 58.95 72.39 79.33 93.55 101.08 114.80 122.60 135.09 141.45 149.57 164.21" y="0" font-size="22.2" fill="#000" stroke="#000">Temperature (K)</text>
<text transform="translate(1164.0 659.2) rotate(-90) scale(0.8043 1)" x="-1.53 8.15 26.71" y="0" font-size="22.2" fill="#000" stroke="#000">(C)</text>
<text transform="translate(0 94.8) scale(1.0242 1)" x="320.83 336.95 355.67 362.04 378.52 386.24 393.99 410.12 418.90 434.83 444.77 452.67 468.61 477.74 493.56 516.69 532.60 541.37 557.31 566.30 573.49 589.28 605.10 628.56 643.78 659.72 667.91 684.79 693.68 709.95 719.16 733.96 746.79 754.67 770.59 786.18 801.81 817.22 832.81 848.54 864.13" y="0" font-size="26.5" fill="#000" stroke="#000">SHIS Interferometer Temperatures 20031106</text>
<text transform="translate(0 859.8) scale(0.9887 1)" x="526.98 543.74 561.84 575.09 581.54 595.28 601.83 621.74 634.40 641.02 649.98 663.18 676.34 690.35 698.13 710.05" y="0" font-size="22.2" fill="#000" stroke="#000">GMT Time (hours)</text>
</svg></body></html>
